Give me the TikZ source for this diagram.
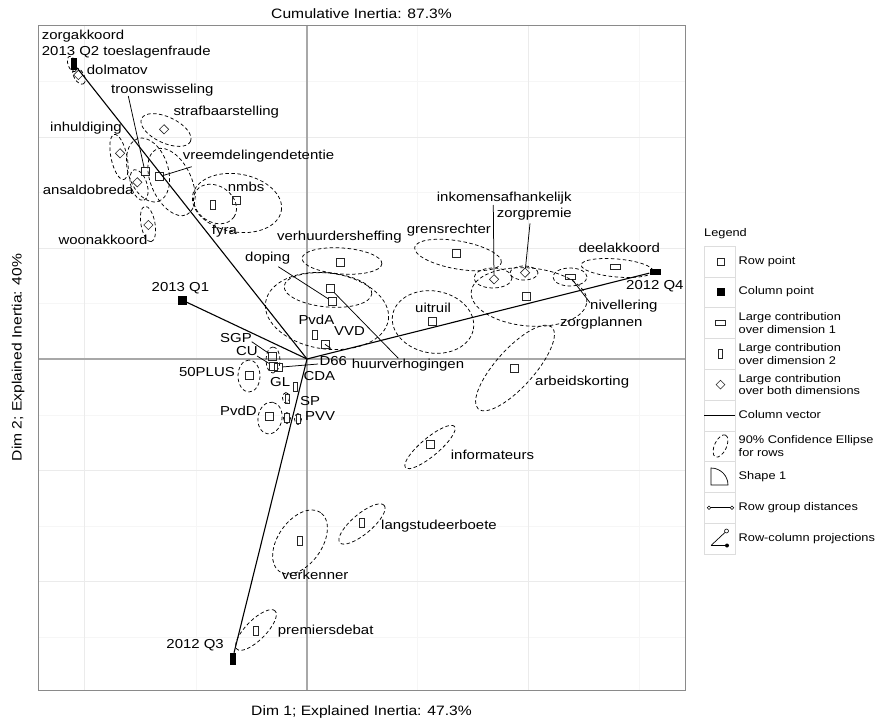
\documentclass[tikz,border=0pt]{standalone}
\usepackage{fontspec}
\setmainfont{Liberation Sans}[FakeStretch=1.15]
\usetikzlibrary{shapes.geometric}
\newcommand\lfont{\fontsize{13}{14.5}\selectfont}
\newcommand\gfont{\fontsize{11.1}{12.6}\selectfont}
\newcommand\tfont{\fontsize{13.6}{15.5}\selectfont}
\definecolor{gmaj}{HTML}{EBEBEB}
\definecolor{gmin}{HTML}{F6F6F6}
\definecolor{axgrey}{HTML}{A8A8A8}
\definecolor{bordgrey}{HTML}{8A8A8A}
\definecolor{keygrey}{HTML}{DDDDDD}
\newcommand\confell[5]{\draw[ell, rotate around={#5:(#1,#2)}] (#1,#2) ellipse [x radius=#3pt, y radius=#4pt];}
\tikzset{
  lab/.style={font=\lfont, inner sep=0pt, anchor=mid west},
  labr/.style={font=\lfont, inner sep=0pt, anchor=mid east},
  rsq/.style={rectangle, draw=black!85, line width=0.6pt, minimum size=8pt, inner sep=0pt},
  rwide/.style={rectangle, draw=black!85, line width=0.6pt, minimum width=10pt, minimum height=4.5pt, inner sep=0pt},
  rtall/.style={rectangle, draw=black!85, line width=0.6pt, minimum width=4.5pt, minimum height=9pt, inner sep=0pt},
  rdia/.style={diamond, draw=black!85, line width=0.6pt, minimum size=9.5pt, inner sep=0pt},
  csq/.style={rectangle, fill=black, minimum size=9pt, inner sep=0pt},
  cwide/.style={rectangle, fill=black, minimum width=11pt, minimum height=6pt, inner sep=0pt},
  ctall/.style={rectangle, fill=black, minimum width=6pt, minimum height=12pt, inner sep=0pt},
  vec/.style={draw=black, line width=1.1pt},
  seg/.style={draw=black, line width=0.75pt},
  ell/.style={draw=black, line width=0.75pt, dash pattern=on 3.5pt off 2.5pt},
  keyb/.style={draw=keygrey, line width=0.6pt, fill=white},
  ltxt/.style={font=\gfont, inner sep=0pt, anchor=mid west},
  ltxt2/.style={font=\gfont, inner sep=0pt, anchor=west, align=left},
}
\begin{document}
\begin{tikzpicture}[x=1pt,y=-1pt]
\useasboundingbox (0,0) rectangle (877,722);
\fill[white] (0,0) rectangle (877,722);
% grid
\begin{scope}
\clip (38,25) rectangle (685,690);
\foreach \x in {196,417,639} \draw[gmin, line width=0.6pt] (\x,25) -- (\x,690);
\foreach \y in {81,192,303.5,415,526,637} \draw[gmin, line width=0.6pt] (38,\y) -- (685,\y);
\foreach \x in {84,528} \draw[gmaj, line width=0.9pt] (\x,25) -- (\x,690);
\foreach \y in {137,248,470,581} \draw[gmaj, line width=0.9pt] (38,\y) -- (685,\y);
\draw[axgrey, line width=1.2pt] (307,25) -- (307,690);
\draw[axgrey, line width=1.2pt] (38,359) -- (685,359);
\end{scope}
\draw[bordgrey, line width=0.9pt] (38,25) rectangle (685,690);
% titles
\node[font=\tfont, inner sep=0pt] (title) at (361.5,14) {Cumulative Inertia: 87.3\%};
\node[font=\tfont, inner sep=0pt] (xlab) at (361.5,712) {Dim 1; Explained Inertia: 47.3\%};
\node[font=\tfont, inner sep=0pt, rotate=90] (ylab) at (18,357.5) {Dim 2; Explained Inertia: 40\%};
% ellipses
\confell{79}{76}{9}{5}{-60}
\confell{72}{64}{8}{4}{-70}
\confell{166}{130}{27}{13}{-25}
\confell{119}{157}{23}{8}{-78}
\confell{148}{170}{33}{20}{-72}
\confell{171.5}{182}{36}{20}{-65}
\confell{139}{185}{16}{8}{-72}
\confell{237}{203}{45}{29}{-10}
\confell{215}{204}{23}{18}{-35}
\confell{148}{224}{18}{7}{-80}
\confell{342}{261}{40}{13}{-4}
\confell{328}{290}{44}{17}{-5}
\confell{327}{311}{62}{38}{-8}
\confell{458}{255}{44}{14}{-10}
\confell{493}{278}{19}{10}{0}
\confell{524}{273}{14}{7}{0}
\confell{529}{297}{58}{29}{-5}
\confell{617}{268}{36}{9}{-5}
\confell{570}{277}{17}{9}{0}
\confell{433}{322}{41}{31}{-10}
\confell{515}{368}{55}{19}{48}
\confell{430}{447}{32}{9}{40}
\confell{362}{524}{29}{10}{40}
\confell{300}{542}{36}{22}{55}
\confell{256}{630}{27}{10}{45}
\confell{249}{376}{16}{11}{90}
\confell{273}{360}{13}{7}{90}
\confell{270}{418}{16}{12}{80}
\confell{286}{398}{5.5}{3.5}{90}
\confell{287}{418}{5.5}{3.5}{90}
\confell{298}{419}{5.5}{3.5}{90}
% row points
\node[rsq] (p_troon) at (145,171.7) {};
\node[rsq] (p_vreem) at (159.3,176.7) {};
\node[rsq] (p_nmbs) at (236,200) {};
\node[rsq] (p_verh) at (340,262.7) {};
\node[rsq] (p_huur) at (330,288.3) {};
\node[rsq] (p_dop) at (332.7,301.7) {};
\node[rsq] (p_vvd) at (325,344.3) {};
\node[rsq] (p_sgp) at (272.7,356) {};
\node[rsq] (p_cu) at (273.3,366) {};
\node[rsq] (p_d66) at (278.3,367.3) {};
\node[rsq] (p_50) at (249,375) {};
\node[rsq] (p_pvdd) at (269,416.7) {};
\node[rsq] (p_grens) at (456.7,253.3) {};
\node[rsq] (p_zpl) at (526.7,296) {};
\node[rsq] (p_uit) at (432.7,321.7) {};
\node[rsq] (p_arb) at (514,368.3) {};
\node[rsq] (p_inf) at (430.7,444.3) {};
\node[rtall] (p_fyra) at (212.7,204.3) {};
\node[rtall] (p_pvda) at (315,334.3) {};
\node[rtall] (p_gl) at (295.5,386.5) {};
\node[rtall] (p_cda) at (287.5,398.3) {};
\node[rtall] (p_sp) at (287,417.3) {};
\node[rtall] (p_pvv) at (298.5,418.3) {};
\node[rtall] (p_lang) at (361.7,522.7) {};
\node[rtall] (p_verk) at (300,541) {};
\node[rtall] (p_prem) at (256,630.7) {};
\node[rwide] (p_deel) at (615,266.7) {};
\node[rwide] (p_niv) at (570,276.7) {};
\node[rdia] (p_dolm) at (78.3,75) {};
\node[rdia] (p_straf) at (164,129.3) {};
\node[rdia] (p_inhu) at (120,153.3) {};
\node[rdia] (p_ansa) at (137.3,182.3) {};
\node[rdia] (p_woon) at (148.3,225) {};
\node[rdia] (p_inko) at (494,279.3) {};
\node[rdia] (p_zpre) at (525,272.7) {};
% column points and vectors
\coordinate (O) at (307,359);
\node[ctall] (cq2) at (74,64) {};
\node[csq] (cq1) at (182,300) {};
\node[cwide] (cq4) at (655,271.7) {};
\node[ctall] (cq3) at (232.5,659) {};
\draw[vec] (O) -- (cq2);
\draw[vec] (O) -- (cq1);
\draw[vec] (O) -- (cq4);
\draw[vec] (O) -- (cq3);
% labels
\node[lab] (l_zorgak) at (41.7,36.7) {zorgakkoord};
\node[lab] (l_q2) at (41.7,53.3) {2013 Q2 toeslagenfraude};
\node[lab] (l_dolm) at (86.7,71.7) {dolmatov};
\node[lab] (l_troon) at (111,91) {troonswisseling};
\node[lab] (l_straf) at (173.3,113.3) {strafbaarstelling};
\node[lab] (l_inhu) at (50,129.3) {inhuldiging};
\node[lab] (l_vreem) at (182.7,156.7) {vreemdelingendetentie};
\node[lab] (l_ansa) at (42.7,191.7) {ansaldobreda};
\node[lab] (l_nmbs) at (227.7,189) {nmbs};
\node[lab] (l_fyra) at (211.7,231.7) {fyra};
\node[lab] (l_woon) at (58.3,241.7) {woonakkoord};
\node[lab] (l_verh) at (277,238) {verhuurdersheffing};
\node[lab] (l_dop) at (245,259.3) {doping};
\node[labr] (l_q1) at (209.3,289.3) {2013 Q1};
\node[lab] (l_pvda) at (298.3,321.7) {PvdA};
\node[lab] (l_vvd) at (334,332.7) {VVD};
\node[lab] (l_sgp) at (220,340) {SGP};
\node[lab] (l_cu) at (236,353.3) {CU};
\node[lab] (l_d66) at (319.3,363.3) {D66};
\node[lab] (l_huur) at (351.7,366) {huurverhogingen};
\node[labr] (l_50) at (235,374.3) {50PLUS};
\node[lab] (l_cda) at (303.3,377.7) {CDA};
\node[lab] (l_gl) at (270,384) {GL};
\node[lab] (l_sp) at (300,402.7) {SP};
\node[lab] (l_pvdd) at (220,413.3) {PvdD};
\node[lab] (l_pvv) at (305,418.3) {PVV};
\node[lab] (l_inko) at (436.7,199) {inkomensafhankelijk};
\node[lab] (l_zpre) at (496.7,215) {zorgpremie};
\node[lab] (l_grens) at (406.7,230.7) {grensrechter};
\node[lab] (l_deel) at (578.3,250) {deelakkoord};
\node[lab] (l_q4) at (626,287.3) {2012 Q4};
\node[lab] (l_niv) at (590,306.7) {nivellering};
\node[lab] (l_uit) at (415,310) {uitruil};
\node[lab] (l_zpl) at (560,324) {zorgplannen};
\node[lab] (l_arb) at (535,383.3) {arbeidskorting};
\node[lab] (l_inf) at (450.7,456.7) {informateurs};
\node[lab] (l_lang) at (381,526.7) {langstudeerboete};
\node[lab] (l_verk) at (281.7,577.3) {verkenner};
\node[lab] (l_prem) at (277.7,632.3) {premiersdebat};
\node[labr] (l_q3) at (224,645.7) {2012 Q3};
% label segments
\coordinate (s_troon) at (128.3,96);
\coordinate (s_vreem) at (191.7,166.7);
\coordinate (s_dop) at (278.3,266.7);
\coordinate (s_huur) at (398.3,358.3);
\coordinate (s_sgp) at (251.7,341.7);
\coordinate (s_cu) at (257,356);
\coordinate (s_d66) at (318,364);
\coordinate (s_vvd) at (331,348.5);
\coordinate (s_inko) at (493.3,205);
\coordinate (s_zpre) at (530,223.3);
\coordinate (s_niv) at (590,302.7);
\draw[seg] (s_troon) -- (p_troon);
\draw[seg] (s_vreem) -- (p_vreem);
\draw[seg] (s_dop) -- (p_dop);
\draw[seg] (s_huur) -- (p_huur);
\draw[seg] (s_sgp) -- (p_sgp);
\draw[seg] (s_cu) -- (p_cu);
\draw[seg] (s_d66) -- (p_d66);
\draw[seg] (s_vvd) -- (p_vvd.center);
\draw[seg] (s_inko) -- (p_inko);
\draw[seg] (s_zpre) -- (p_zpre);
\draw[seg] (s_niv) -- (p_niv);
% legend
\node[font=\gfont, inner sep=0pt, anchor=mid west] (legt) at (704,234) {Legend};
\foreach \k in {0,...,9} \draw[keyb] (704,{246+30.8*\k}) rectangle +(31,30.8);
\node[rsq, minimum size=7pt] (k1) at (720.5,261.4) {};
\node[csq, minimum size=8pt] (k2) at (720.5,292.2) {};
\node[rwide] (k3) at (720.5,323) {};
\node[rtall] (k4) at (720.5,353.8) {};
\node[rdia, minimum size=9pt] (k5) at (720.5,384.6) {};
\coordinate (k6a) at (704,415.4);
\coordinate (k6b) at (735,415.4);
\draw[vec] (k6a) -- (k6b);
\confell{720.5}{446}{12}{6}{65}
\coordinate (k8) at (711,485);
\draw[black, line width=0.7pt] (k8) -- ++(0,-17) arc[start angle=90, end angle=0, radius=17pt] -- cycle;
\node[circle, draw=black, fill=white, line width=0.6pt, minimum size=3.5pt, inner sep=0pt] (k9a) at (709,507.8) {};
\node[circle, draw=black, fill=white, line width=0.6pt, minimum size=3.5pt, inner sep=0pt] (k9b) at (732,507.8) {};
\draw[black, line width=0.7pt] (k9a) -- (k9b);
\coordinate (k10a) at (711,545.5);
\node[circle, draw=black, fill=white, line width=0.6pt, minimum size=4pt, inner sep=0pt] (k10b) at (726.5,531) {};
\node[circle, fill=black, minimum size=4pt, inner sep=0pt] (k10c) at (727,545.5) {};
\draw[black, line width=0.7pt] (k10a) -- (k10b);
\draw[black, line width=0.7pt] (k10a) -- (k10c.center);
\node[ltxt] (t1) at (738.5,261.4) {Row point};
\node[ltxt] (t2) at (738.5,292.2) {Column point};
\node[ltxt2] (t3) at (738.5,323) {Large contribution\\over dimension 1};
\node[ltxt2] (t4) at (738.5,353.8) {Large contribution\\over dimension 2};
\node[ltxt2] (t5) at (738.5,384.6) {Large contribution\\over both dimensions};
\node[ltxt] (t6) at (738.5,415.4) {Column vector};
\node[ltxt2] (t7) at (738.5,446.2) {90\% Confidence Ellipse\\for rows};
\node[ltxt] (t8) at (738.5,477) {Shape 1};
\node[ltxt] (t9) at (738.5,507.8) {Row group distances};
\node[ltxt] (t10) at (738.5,538.6) {Row-column projections};
\end{tikzpicture}
\end{document}
